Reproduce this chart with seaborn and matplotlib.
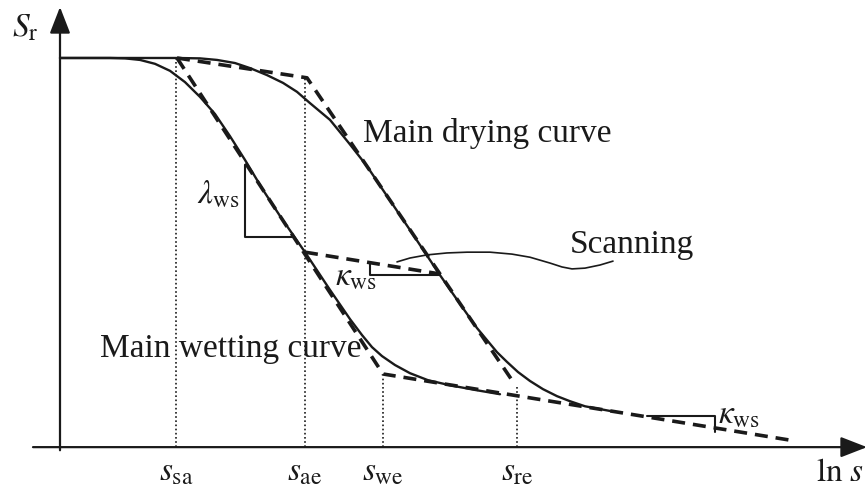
import numpy as np
import pandas as pd
import matplotlib
matplotlib.use("Agg")
import matplotlib.pyplot as plt
import seaborn as sns

# schematic SWRC with hysteresis
# x = ln s (arbitrary units from the S_r axis), y = S_r (plateau = 1)

wet_x = [0.00, 0.50, 0.65, 0.80, 0.95, 1.10, 1.25, 1.40, 1.55, 1.70, 1.85, 2.03, 2.20,
         2.45, 2.70, 2.90, 3.02, 3.12, 3.22, 3.35, 3.50, 3.68, 3.90, 4.15, 4.40]
wet_y = [1.000, 1.000, 0.999, 0.995, 0.985, 0.967, 0.938, 0.900, 0.856, 0.799, 0.738, 0.661, 0.594,
         0.501, 0.404, 0.329, 0.288, 0.257, 0.234, 0.211, 0.190, 0.172, 0.159, 0.147, 0.136]

dry_x = [0.00, 1.17, 1.40, 1.57, 1.75, 1.90, 2.07, 2.23, 2.37, 2.50, 2.70, 2.89, 3.07, 3.25,
         3.50, 3.80, 4.00, 4.17, 4.37, 4.47, 4.58, 4.70, 4.83, 4.97, 5.10, 5.25, 5.50]
dry_y = [1.000, 1.000, 0.999, 0.995, 0.987, 0.974, 0.956, 0.936, 0.913, 0.884, 0.841, 0.781, 0.722, 0.653,
         0.558, 0.442, 0.368, 0.306, 0.244, 0.219, 0.193, 0.170, 0.149, 0.131, 0.118, 0.105, 0.093]

# bilinear model lines (dashed)
wet_model_x = [1.17, 3.23, 7.30]
wet_model_y = [1.000, 0.188, 0.018]
dry_model_x = [1.17, 2.47, 4.52]
dry_model_y = [1.000, 0.949, 0.172]
scan_x = [2.45, 3.80]
scan_y = [0.501, 0.445]

# suction values marked on the axis
suction_x = [1.16, 2.45, 3.23, 4.57]
suction_top = [1.000, 0.946, 0.180, 0.154]
suction_labels = [r"$s_{\mathrm{sa}}$", r"$s_{\mathrm{ae}}$", r"$s_{\mathrm{we}}$", r"$s_{\mathrm{re}}$"]

# slope triangles
lam_x = [1.85, 1.85, 2.32]
lam_y = [0.725, 0.540, 0.540]
kap1_x = [3.10, 3.10, 3.80]
kap1_y = [0.473, 0.442, 0.442]
kap2_x = [5.87, 6.55, 6.55]
kap2_y = [0.080, 0.080, 0.039]

# leader line to "Scanning"
lead_x = [3.37, 3.50, 3.67, 3.87, 4.07, 4.30, 4.52, 4.70, 4.90, 5.02, 5.12, 5.25, 5.40, 5.53]
lead_y = [0.476, 0.486, 0.494, 0.499, 0.501, 0.501, 0.496, 0.488, 0.473, 0.463, 0.458, 0.460, 0.468, 0.478]

sns.set_theme(style="white")
plt.rcParams["font.family"] = ["Liberation Serif", "DejaVu Serif"]
plt.rcParams["mathtext.fontset"] = "stix"

fig = plt.figure(figsize=(8.67, 4.88), dpi=100)
ax = fig.add_axes([0, 0, 1, 1])
ax.set_xlim(-0.60, 8.07)
ax.set_ylim(-0.105, 1.149)
ax.axis("off")

ink = "#1a1a1a"


def path(x, y, **kw):
    # draw points in the given order, no aggregation
    sns.lineplot(x=x, y=y, sort=False, estimator=None, color=ink, ax=ax, **kw)


# main curves
path(wet_x, wet_y, lw=1.7)
path(dry_x, dry_y, lw=1.7)

# dashed models
dash = (0, (3.6, 2.2))
for mx, my in [(wet_model_x, wet_model_y), (dry_model_x, dry_model_y), (scan_x, scan_y)]:
    path(mx, my, lw=2.6, linestyle=dash)

# dotted verticals and suction labels
for sx, st, lab in zip(suction_x, suction_top, suction_labels):
    path([sx, sx], [0, st], lw=1.2, linestyle=(0, (1, 1.5)))
    ax.text(sx, -0.064, lab, ha="center", va="center", fontsize=24, color=ink)

# triangles
for tx, ty in [(lam_x, lam_y), (kap1_x, kap1_y), (kap2_x, kap2_y)]:
    path(tx, ty, lw=1.5)

path(lead_x, lead_y, lw=1.2)

# axes with arrows
arrow = dict(arrowstyle="-|>,head_length=0.9,head_width=0.35", color=ink, lw=1.6,
             shrinkA=0, shrinkB=0, mutation_scale=18)
ax.annotate("", xy=(8.07, 0), xytext=(-0.27, 0), arrowprops=arrow)
ax.annotate("", xy=(0, 1.131), xytext=(0, -0.008), arrowprops=arrow)

# labels
ax.text(-0.48, 1.077, r"$S_{\mathrm{r}}$", ha="left", va="center", fontsize=24, color=ink)
ax.text(7.56, -0.067, r"$\mathrm{ln}\ s$", ha="left", va="center", fontsize=24, color=ink)
ax.text(3.03, 0.784, "Main drying curve", ha="left", va="baseline", fontsize=24, color=ink)
ax.text(0.40, 0.231, "Main wetting curve", ha="left", va="baseline", fontsize=24, color=ink)
ax.text(5.10, 0.499, "Scanning", ha="left", va="baseline", fontsize=24, color=ink)
ax.text(1.37, 0.648, r"$\lambda_{\mathrm{ws}}$", ha="left", va="center", fontsize=24, color=ink)
ax.text(2.75, 0.437, r"$\kappa_{\mathrm{ws}}$", ha="left", va="center", fontsize=24, color=ink)
ax.text(6.58, 0.082, r"$\kappa_{\mathrm{ws}}$", ha="left", va="center", fontsize=24, color=ink)

fig.savefig("out.png", dpi=100)
